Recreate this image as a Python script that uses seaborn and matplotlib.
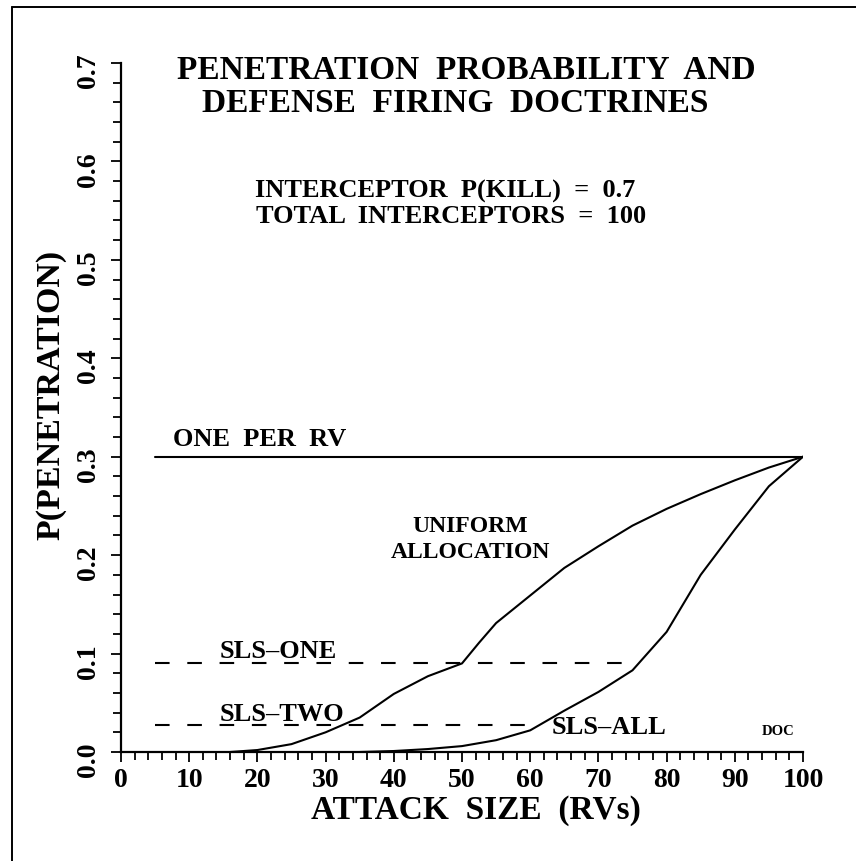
import matplotlib
matplotlib.use("Agg")
import matplotlib.pyplot as plt
import seaborn as sns
from matplotlib.lines import Line2D
from matplotlib.ticker import MultipleLocator, FormatStrFormatter

# values
one_per_rv_x = [5, 100]
one_per_rv_y = [0.3, 0.3]

sls_one_x = [5, 75]
sls_one_y = [0.09, 0.09]

sls_two_x = [5, 60]
sls_two_y = [0.027, 0.027]

uniform_x = [16, 20, 25, 30, 35, 40, 45, 50, 52.5, 55, 60, 65, 70, 75, 80, 85, 90, 95, 100]
uniform_y = [0.0, 0.002, 0.008, 0.02, 0.035, 0.059, 0.077, 0.09, 0.111, 0.131,
             0.159, 0.187, 0.209, 0.23, 0.247, 0.262, 0.276, 0.289, 0.3]

sls_all_x = [35, 40, 45, 50, 55, 60, 65, 70, 75, 80, 85, 90, 95, 100]
sls_all_y = [0.0, 0.001, 0.003, 0.006, 0.012, 0.022, 0.042, 0.061, 0.083,
             0.122, 0.18, 0.226, 0.27, 0.3]

x_ticks = [0, 10, 20, 30, 40, 50, 60, 70, 80, 90, 100]
y_ticks = [0.0, 0.1, 0.2, 0.3, 0.4, 0.5, 0.6, 0.7]

W, H = 856, 861

sns.set_theme(style="ticks")
plt.rcParams["font.family"] = ["Liberation Serif", "DejaVu Serif"]
plt.rcParams["font.weight"] = "bold"
plt.rcParams["axes.edgecolor"] = "black"
plt.rcParams["axes.labelcolor"] = "black"
plt.rcParams["xtick.color"] = "black"
plt.rcParams["ytick.color"] = "black"
plt.rcParams["xtick.labelcolor"] = "black"
plt.rcParams["ytick.labelcolor"] = "black"
plt.rcParams["text.color"] = "black"

fig = plt.figure(figsize=(W / 100, H / 100), dpi=100)
fig.patch.set_facecolor("white")
ax = fig.add_axes([121 / W, 1 - 752 / H, 682 / W, 689 / H])
ax.set_facecolor("white")

line_kw = dict(color="black", linewidth=1.5, sort=False)
sns.lineplot(x=one_per_rv_x, y=one_per_rv_y, ax=ax, **line_kw)
sns.lineplot(x=uniform_x, y=uniform_y, ax=ax, **line_kw)
sns.lineplot(x=sls_all_x, y=sls_all_y, ax=ax, **line_kw)
sns.lineplot(x=sls_one_x, y=sls_one_y, ax=ax, **line_kw)
ax.lines[-1].set_dashes((7, 8.5))
sns.lineplot(x=sls_two_x, y=sls_two_y, ax=ax, **line_kw)
ax.lines[-1].set_dashes((7, 8.5))

ax.set_xlim(0, 100)
ax.set_ylim(0, 0.7)
ax.set_xticks(x_ticks)
ax.set_yticks(y_ticks)
ax.xaxis.set_minor_locator(MultipleLocator(2))
ax.yaxis.set_minor_locator(MultipleLocator(0.02))
ax.yaxis.set_major_formatter(FormatStrFormatter("%.1f"))

sns.despine(ax=ax)
for side in ["left", "bottom"]:
    ax.spines[side].set_linewidth(1.6)
    ax.spines[side].set_color("black")

ax.tick_params(axis="both", which="major", direction="out", length=7.5, width=1.3,
               labelsize=20, colors="black")
ax.tick_params(axis="both", which="minor", direction="out", length=5.5, width=1.3,
               colors="black")
ax.tick_params(axis="x", pad=4)
ax.tick_params(axis="y", pad=7, labelrotation=90)

ax.set_xlabel("ATTACK  SIZE  (RVs)", fontsize=24, fontweight="bold", color="black")
ax.xaxis.set_label_coords(0.52, -0.063)
ax.set_ylabel("P(PENETRATION)", fontsize=24.5, fontweight="bold", color="black")
ax.yaxis.set_label_coords(-0.08, 0.518)

# titles and annotations
ax.text(50.6, 0.692, "PENETRATION  PROBABILITY  AND", fontsize=24,
        ha="center", va="center")
ax.text(49.0, 0.659, "DEFENSE  FIRING  DOCTRINES", fontsize=24,
        ha="center", va="center")
ax.text(19.6, 0.570, "INTERCEPTOR  P(KILL)  =  0.7", fontsize=19,
        ha="left", va="center")
ax.text(19.8, 0.5445, "TOTAL  INTERCEPTORS  =  100", fontsize=19,
        ha="left", va="center")

ax.text(7.6, 0.317, "ONE  PER  RV", fontsize=19, ha="left", va="center")
ax.text(51.2, 0.2286, "UNIFORM", fontsize=17, ha="center", va="center")
ax.text(51.3, 0.203, "ALLOCATION", fontsize=17, ha="center", va="center")
ax.text(14.5, 0.1016, "SLS\u2013ONE", fontsize=19, ha="left", va="center")
ax.text(14.5, 0.0376, "SLS\u2013TWO", fontsize=19, ha="left", va="center")
ax.text(63.2, 0.0244, "SLS\u2013ALL", fontsize=19, ha="left", va="center")
ax.text(94.0, 0.0213, "DOC", fontsize=10.5, ha="left", va="center")

# scanned page frame (only left and top edges are visible)
fx, fy = 12 / W, 1 - 7 / H
fig.add_artist(Line2D([fx, fx], [0, fy], color="black", lw=1.4, transform=fig.transFigure))
fig.add_artist(Line2D([fx, 1], [fy, fy], color="black", lw=1.4, transform=fig.transFigure))

fig.savefig("out.png", dpi=100)
